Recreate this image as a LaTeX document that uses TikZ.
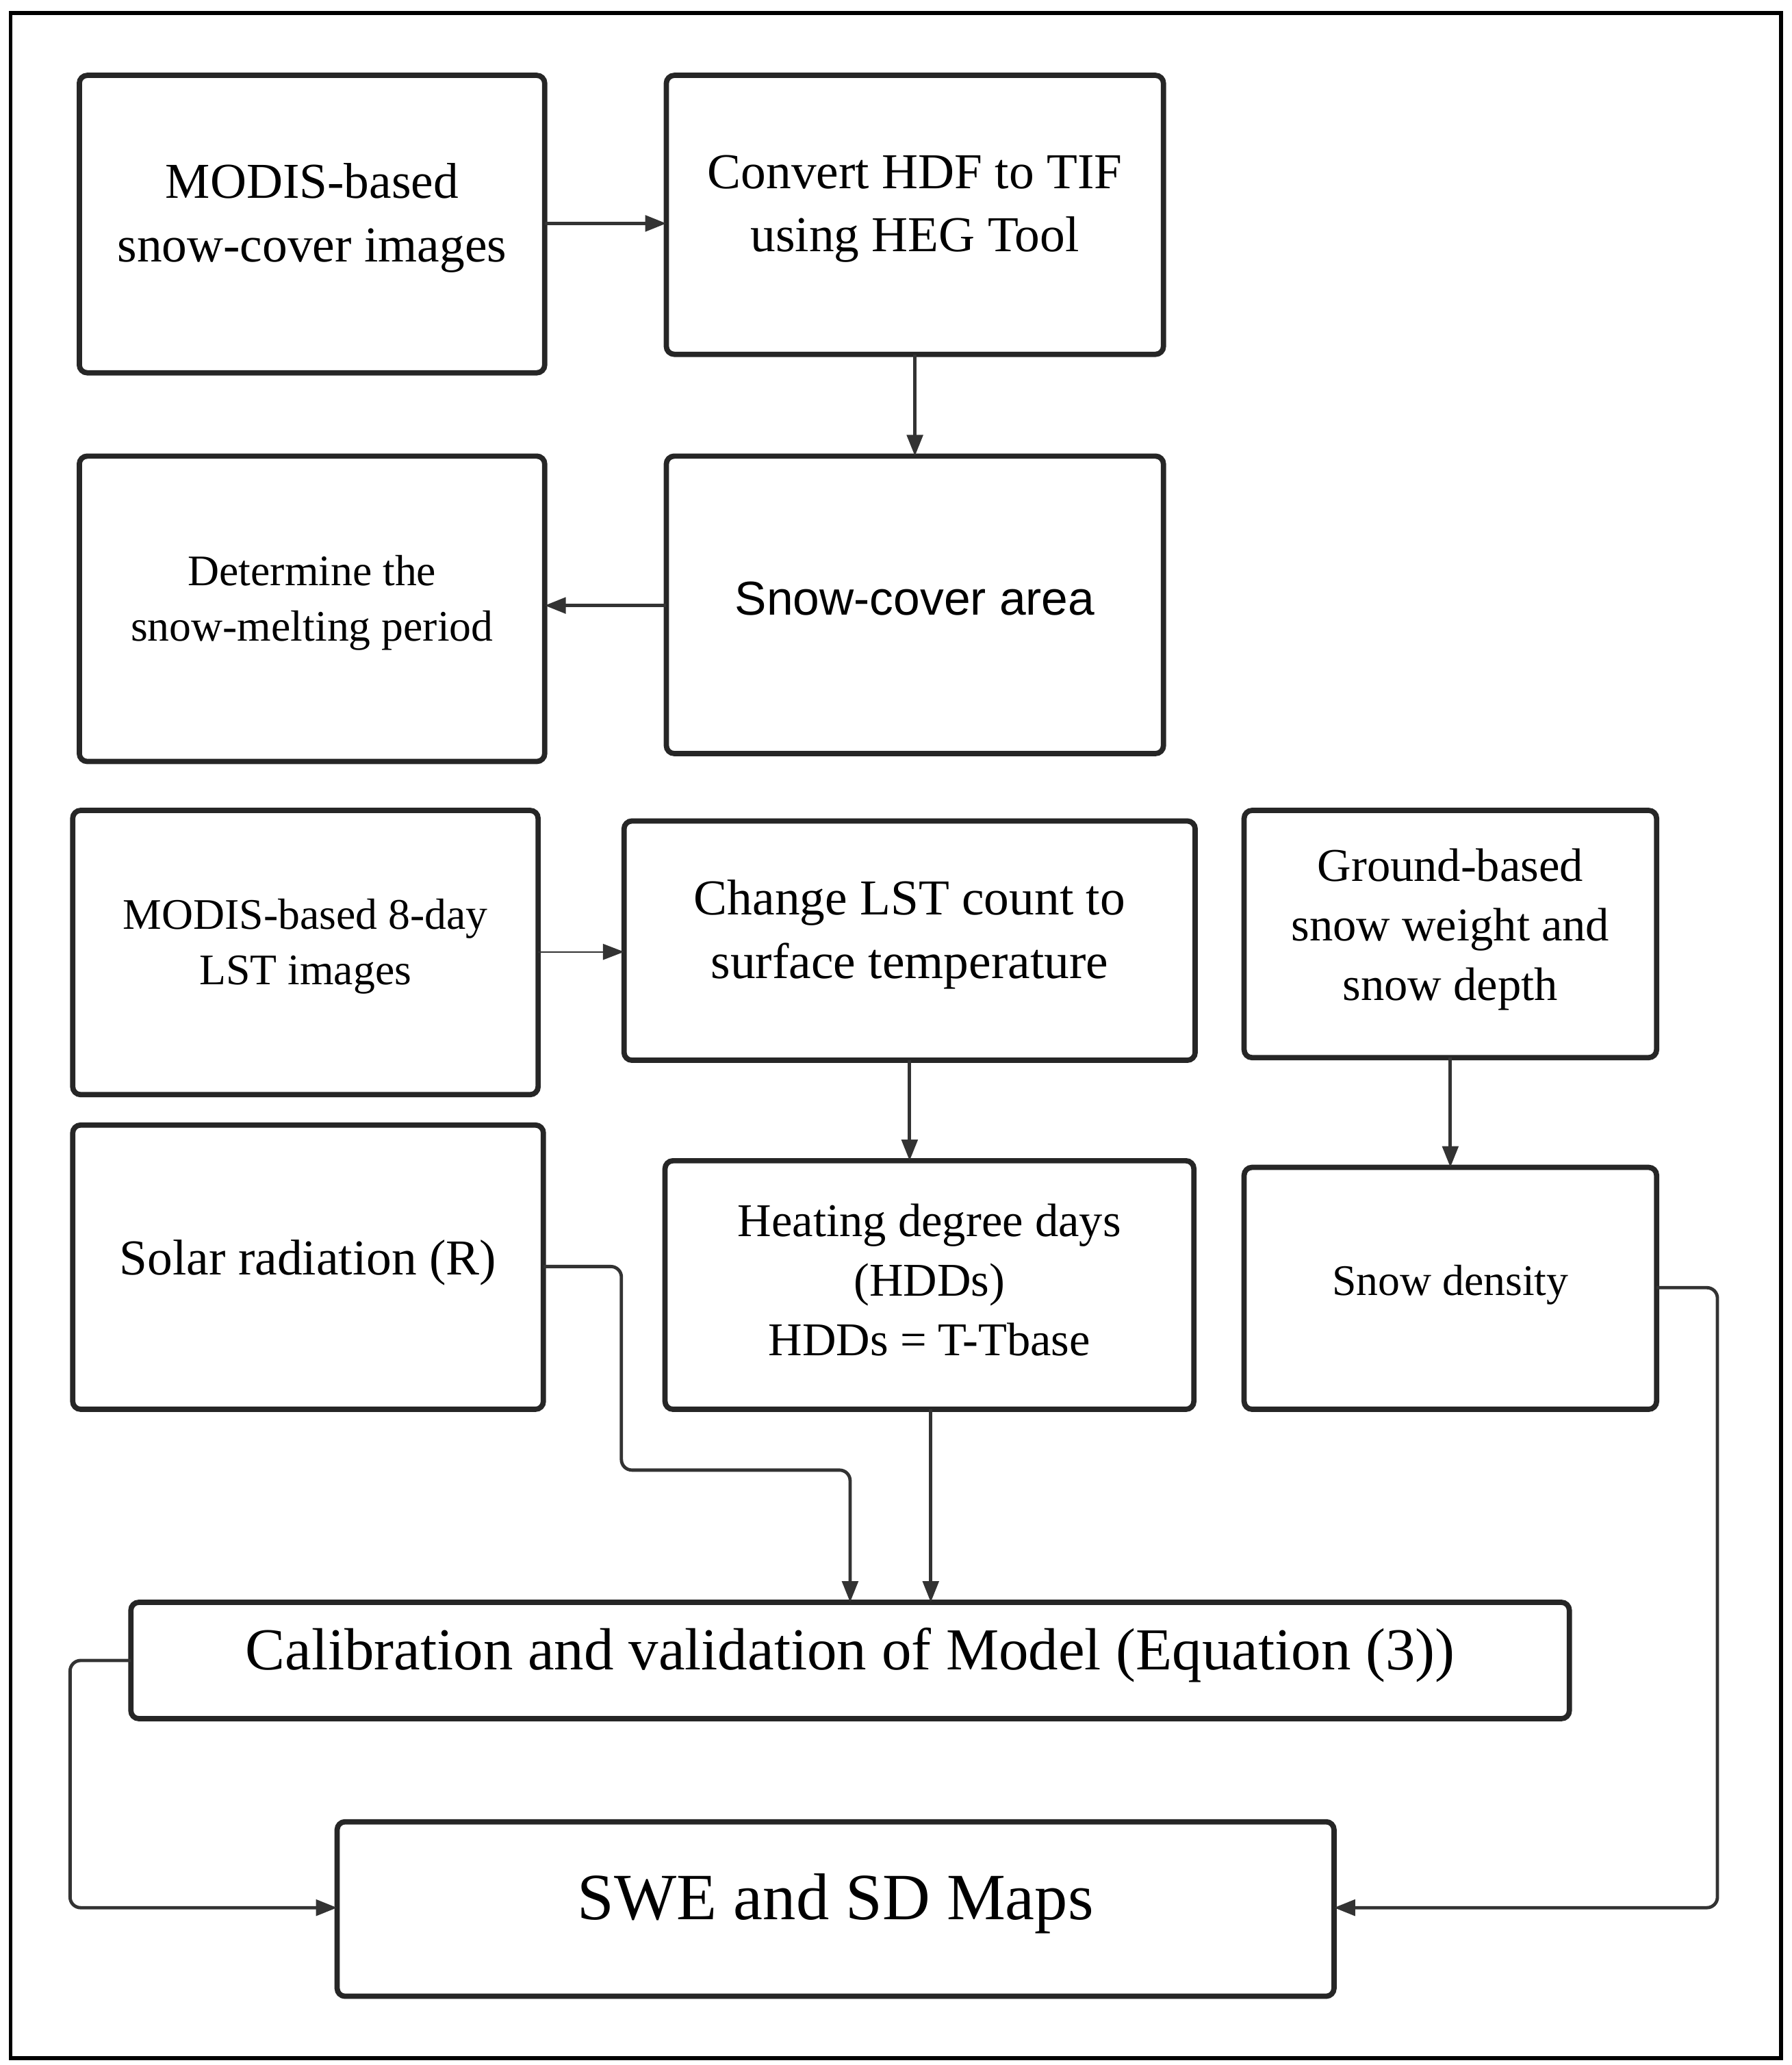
\documentclass[tikz,border=0pt]{standalone}
\usepackage{fontspec}
\setmainfont{Liberation Serif}
\newfontfamily\sansf{Liberation Sans}
\usetikzlibrary{arrows.meta}
\begin{document}
\begin{tikzpicture}[x=1pt,y=-1pt,
  box/.style={draw=black!85,line width=4pt,rounded corners=6pt,align=center,inner sep=0pt},
  arr/.style={draw=black!80,line width=2.5pt,-{Triangle[length=16pt,width=12pt]}},
  fa/.style={font=\fontsize{38}{48}\selectfont},
  fb/.style={font=\fontsize{33}{42}\selectfont}]
\useasboundingbox (0,0) rectangle (1355,1562);
\draw[line width=3pt] (8,10) rectangle (1347,1557);
\newcommand{\bx}[6]{\node[box,#6,minimum width=#4-#2,minimum height=#5-#3] (#1) at ({(#2+#4)/2},{(#3+#5)/2}) {};}
\bx{A}{60}{57}{412}{282}{}
\node[fa,align=center] at (236,165) {MODIS-based\\snow-cover images};
\bx{B}{504}{57}{880}{268}{}
\node[fa,align=center] at (692,158) {Convert HDF to TIF\\using HEG Tool};
\bx{C}{504}{345}{880}{570}{}
\node[font=\sansf\fontsize{36}{44}\selectfont] at (692,453) {Snow-cover area};
\bx{D}{60}{345}{412}{576}{}
\node[fb,align=center] at (236,456) {Determine the\\snow-melting period};
\bx{E}{55}{613}{407}{828}{}
\node[fb,align=center] at (231,716) {MODIS-based 8-day\\LST images};
\bx{F}{472}{621}{904}{802}{}
\node[fa,align=center] at (688,707) {Change LST count to\\surface temperature};
\bx{G}{941}{613}{1253}{800}{}
\node[font=\fontsize{35.5}{45}\selectfont,align=center] at (1097,703) {Ground-based\\snow weight and\\snow depth};
\bx{H}{55}{851}{411}{1066}{}
\node[fa] at (233,955) {Solar radiation (R)};
\bx{I}{503}{878}{903}{1066}{}
\node[font=\fontsize{35.5}{45}\selectfont,align=center] at (703,968) {Heating degree days\\(HDDs)\\HDDs = T-Tbase};
\bx{J}{941}{883}{1253}{1066}{}
\node[fb] at (1097,972) {Snow density};
\bx{K}{99}{1212}{1187}{1300}{}
\node[font=\fontsize{45}{50}\selectfont] at (643,1252) {Calibration and validation of Model (Equation (3))};
\bx{L}{255}{1378}{1009}{1510}{}
\node[font=\fontsize{50}{54}\selectfont] at (632,1440) {SWE and SD Maps};
\draw[arr] (412,169) -- (504,169);
\draw[arr] (692,268) -- (692,345);
\draw[arr] (504,458) -- (412,458);
\draw[arr,line width=1.2pt] (407,720) -- (472,720);
\draw[arr] (688,802) -- (688,878);
\draw[arr] (1097,800) -- (1097,883);
\draw[arr,rounded corners=8pt] (411,958) -- (470,958) -- (470,1112) -- (643,1112) -- (643,1212);
\draw[arr] (704,1066) -- (704,1212);
\draw[arr,rounded corners=8pt] (99,1256) -- (53,1256) -- (53,1443) -- (255,1443);
\draw[arr,rounded corners=8pt] (1253,974) -- (1299,974) -- (1299,1443) -- (1009,1443);
\end{tikzpicture}
\end{document}
